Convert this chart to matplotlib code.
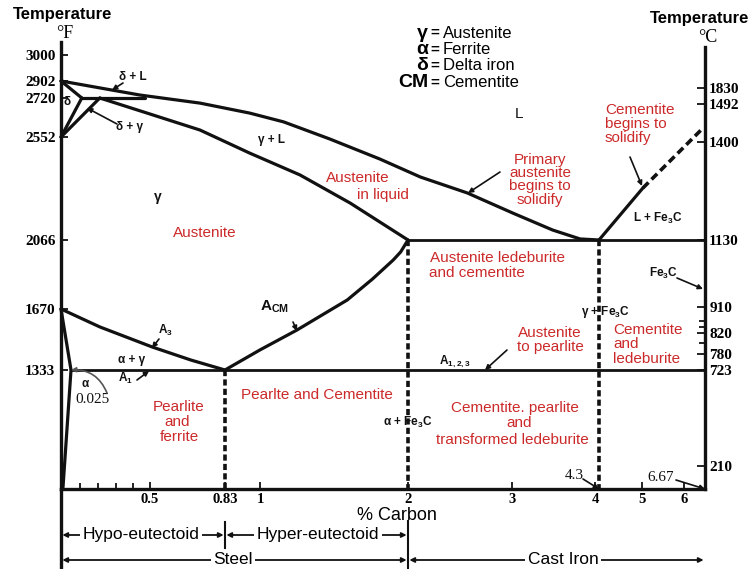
import numpy as np
import matplotlib
matplotlib.use("Agg")
import matplotlib.pyplot as plt
import matplotlib.transforms as mtransforms

plt.rcParams["font.family"] = ["Liberation Sans", "DejaVu Sans"]
plt.rcParams["mathtext.fontset"] = "custom"
plt.rcParams["mathtext.rm"] = "Liberation Sans:bold"
plt.rcParams["mathtext.bf"] = "Liberation Sans:bold"
plt.rcParams["mathtext.default"] = "bf"

# ---------------------------------------------------------------- data
# axis tick values
carbon_ticks = [0.5, 0.83, 1, 2, 3, 4, 5, 6]
carbon_minor = [0.1, 0.2, 0.3, 0.4]
temp_f_ticks = [3000, 2902, 2720, 2552, 2066, 1670, 1333]
temp_c_ticks = [1830, 1492, 1400, 1130, 910, 820, 780, 723, 210]
temp_c_minor = [860, 840, 800]

# phase boundaries (% carbon, deg F)
liquidus_c = [0, 0.44, 0.72, 0.95, 1.16, 1.47, 1.81, 2.12, 2.57, 3.01, 3.49, 3.82, 4.3]
liquidus_f = [2902, 2752, 2698, 2655, 2617, 2543, 2448, 2363, 2288, 2193, 2113, 2071, 2066]
solidus_c = [0.21, 0.5, 0.72, 0.95, 1.27, 1.61, 2]
solidus_f = [2720, 2651, 2582, 2476, 2373, 2240, 2066]
delta_liq_c, delta_liq_f = [0, 0.11], [2902, 2720]
delta_sol_c, delta_sol_f = [0, 0.11], [2552, 2720]
gamma_delta_c, gamma_delta_f = [0, 0.21], [2552, 2720]
peritectic_c, peritectic_f = [0.11, 0.47], [2720, 2720]
a3_c = [0, 0.21, 0.51, 0.68, 0.83]
a3_f = [1670, 1571, 1460, 1388, 1333]
acm_c = [0.83, 1.0, 1.25, 1.59, 1.76, 1.90, 1.95, 2]
acm_f = [1333, 1444, 1554, 1722, 1842, 1951, 1997, 2066]
ferrite_c = [0, 0.025, 0.005]
ferrite_f = [1670, 1333, 50]
eutectoid_c, eutectoid_f = [0.025, 6.67], [1333, 1333]
eutectic_c, eutectic_f = [2, 6.67], [2066, 2066]
cem_liq_c, cem_liq_f = [4.3, 5.02], [2066, 2311]
cem_liq_ext_c, cem_liq_ext_f = [5.02, 6.61], [2311, 2591]
dashed_verticals = [(0.83, 1333), (2, 2066), (4.3, 2066)]
t_bottom_f = 32

# ------------------------------------------------------- schematic scales
W, H = 750, 569
x_break_val = [0, 0.025, 0.1, 0.2, 0.3, 0.4, 0.5, 0.83, 1, 2, 3, 4, 4.3, 5, 6, 6.67]
x_break_pos = [61, 71, 80, 98, 116, 133, 150, 225, 260, 408, 512, 595, 599, 642, 684, 705]
f_break_val = [32, 1333, 1670, 2066, 2552, 2720, 2902, 3000, 3050]
f_break_pos = [489, 370, 309, 240, 137, 98, 81, 55, 42]
c_break_val = [84, 210, 723, 780, 820, 910, 1130, 1400, 1492, 1830, 2800]
c_break_pos = [489, 466, 370, 354, 333, 307, 240, 142, 104, 88, 42]


def piecewise(vals, pos, flip):
    v = np.asarray(vals, float)
    p = np.asarray(pos, float) * (-1 if flip else 1)
    o = np.argsort(v)
    v, p = v[o], p[o]
    return (lambda x: np.interp(x, v, p)), (lambda y: np.interp(y, p, v))


fx, ix = piecewise(x_break_val, x_break_pos, False)
ff, iF = piecewise(f_break_val, f_break_pos, True)
fc, ic = piecewise(c_break_val, c_break_pos, True)

fig = plt.figure(figsize=(W / 100, H / 100), dpi=100)
ax = fig.add_axes([61 / W, 1 - 489 / H, (705 - 61) / W, (489 - 42) / H])
ax.set_xscale("function", functions=(fx, ix))
ax.set_yscale("function", functions=(ff, iF))
ax.set_xlim(0, 6.67)
ax.set_ylim(t_bottom_f, 3050)
ax.patch.set_visible(False)

px = mtransforms.Affine2D().scale(1 / W, -1 / H).translate(0, 1) + fig.transFigure
xpx = mtransforms.blended_transform_factory(ax.transData, px)

LW = 2.3
K = "#111111"
RED = "#cc2a2a"
for c, f in [(liquidus_c, liquidus_f), (solidus_c, solidus_f),
             (delta_liq_c, delta_liq_f), (delta_sol_c, delta_sol_f),
             (gamma_delta_c, gamma_delta_f), (peritectic_c, peritectic_f),
             (a3_c, a3_f), (acm_c, acm_f), (ferrite_c, ferrite_f),
             (cem_liq_c, cem_liq_f)]:
    ax.plot(c, f, color=K, lw=LW, solid_capstyle="round", solid_joinstyle="round", clip_on=False)
for c, f in [(eutectoid_c, eutectoid_f), (eutectic_c, eutectic_f)]:
    ax.plot(c, f, color=K, lw=2.0, clip_on=False)
for c, top in dashed_verticals:
    ax.plot([c, c], [top, t_bottom_f], color=K, lw=2.6, linestyle=(0, (1.7, 0.9)))
ax.plot(cem_liq_ext_c, cem_liq_ext_f, color=K, lw=2.6, linestyle=(0, (2.2, 1.2)))

# ---------------------------------------------------------------- axes
for s in ("top", "right"):
    ax.spines[s].set_visible(False)
for s in ("left", "bottom"):
    ax.spines[s].set_linewidth(2.4)
    ax.spines[s].set_color(K)
ax.plot([0, 0], [0, -80 / 447], transform=ax.transAxes, color=K, lw=2.4, clip_on=False)

tick_font = dict(fontfamily="Liberation Serif", fontweight="bold", fontsize=11)
ax.set_yticks(temp_f_ticks, labels=[str(t) for t in temp_f_ticks], **tick_font)
ax.set_yticks([], minor=True)
ax.set_xticks(carbon_ticks, labels=[f"{t:g}" for t in carbon_ticks], fontfamily="Liberation Serif",
              fontweight="bold", fontsize=10.5)
ax.set_xticks(carbon_minor, minor=True)
ax.tick_params(axis="both", which="both", direction="in", color=K, width=1.3)
ax.tick_params(axis="y", which="major", length=5, pad=4)
ax.tick_params(axis="x", which="major", length=5, pad=3)
ax.tick_params(axis="x", which="minor", length=4)

ax2 = ax.twinx()
ax2.set_yscale("function", functions=(fc, ic))
ax2.set_ylim(84, 2800)
ax2.patch.set_visible(False)
for s in ("top", "left", "bottom"):
    ax2.spines[s].set_visible(False)
ax2.spines["right"].set_linewidth(2.4)
ax2.spines["right"].set_color(K)
ax2.spines["right"].set_bounds(84, ic(-47))
ax2.set_yticks(temp_c_ticks, labels=[str(t) for t in temp_c_ticks], **tick_font)
ax2.set_yticks(temp_c_minor, minor=True)
ax2.tick_params(axis="y", which="both", direction="in", color=K, width=1.3, pad=3)
ax2.tick_params(axis="y", which="major", length=6)
ax2.tick_params(axis="y", which="minor", length=4)

# ------------------------------------------------------------- headings
fig.text(13 / W, 1 - 15 / H, "Temperature", ha="left", va="center", fontsize=12, fontweight="bold")
fig.text(700 / W, 1 - 18 / H, "Temperature", ha="center", va="center", fontsize=12, fontweight="bold")
fig.text(65 / W, 1 - 33 / H, "°F", ha="center", va="center", fontsize=13, fontfamily="Liberation Serif")
fig.text(708 / W, 1 - 37 / H, "°C", ha="center", va="center", fontsize=13, fontfamily="Liberation Serif")
fig.text(397 / W, 1 - 516 / H, "% Carbon", ha="center", va="center", fontsize=13)

# key
key = [("γ", "Austenite"), ("α", "Ferrite"), ("δ", "Delta iron"), ("CM", "Cementite")]
for i, (sym, name) in enumerate(key):
    y = 33 + 16.5 * i
    ax.text(428, y, sym, transform=px, ha="right", va="center", fontsize=14, fontweight="bold")
    ax.text(435, y, "=", transform=px, ha="center", va="center", fontsize=11, fontweight="bold")
    ax.text(443, y, name, transform=px, ha="left", va="center", fontsize=12)


def label(x, y, s, color=RED, size=11, ha="center", **kw):
    ax.text(x, y, s, transform=px, ha=ha, va="center", fontsize=size, color=color, **kw)


# region names
label(205, 233, "Austenite")
label(326, 178, "Austenite", ha="left")
label(357, 195, "in liquid", ha="left")
for y, s in [(160, "Primary"), (173, "austenite"), (186, "begins to"), (200, "solidify")]:
    label(540, y, s)
label(430, 258, "Austenite ledeburite", ha="left")
label(429, 273, "and cementite", ha="left")
label(550, 333, "Austenite")
label(550, 347, "to pearlite")
for y, s in [(330, "Cementite"), (344, "and"), (359, "ledeburite")]:
    label(613, y, s, ha="left")
label(515, 408, "Cementite. pearlite")
label(519, 423, "and")
label(512, 440, "transformed ledeburite")
label(179, 407, "Pearlite")
label(177, 422, "and")
label(179, 437, "ferrite")
label(317, 395, "Pearlte and Cementite")
for y, s in [(110, "Cementite"), (124, "begins to"), (138, "solidify")]:
    label(605, y, s, ha="left")

# phase symbols
bk = dict(color=K, size=8.5, fontweight="bold")
label(133, 77, "δ + L", **bk)
label(67, 102, "δ", **bk)
label(130, 127, "δ + γ", **bk)
label(272, 140, "γ + L", **bk)
label(158, 197, "γ", color=K, size=10, fontweight="bold")
label(519, 114, "L", color=K, size=11)
label(275, 307, r"A$_{CM}$", color=K, size=11, fontweight="bold")
label(165, 330, r"A$_3$", **bk)
label(132, 360, "α + γ", **bk)
label(125, 378, r"A$_1$", **bk)
label(85, 384, "α", **bk)
label(408, 422, r"α + Fe$_3$C", **bk)
label(605, 312, r"γ + Fe$_3$C", **bk)
label(658, 218, r"L + Fe$_3$C", **bk)
label(455, 362, r"A$_{1,2,3}$", **bk)
label(663, 273, r"Fe$_3$C", **bk)
serif = dict(color=K, size=11, fontfamily="Liberation Serif")
label(93, 400, "0.025", **serif)
label(574, 476, "4.3", **serif)
label(661, 478, "6.67", **serif)

# leader arrows
arrow = dict(arrowstyle="-|>", color=K, lw=1.2, mutation_scale=7, shrinkA=0, shrinkB=0)
for tail, tip in [((123, 83), (112, 90)), ((117, 124), (87, 108)), ((159, 339), (152, 348)),
                  ((137, 380), (149, 371)), ((293, 322), (297, 331)), ((507, 350), (485, 370)),
                  ((500, 172), (468, 193)), ((630, 157), (642, 186)), ((677, 278), (703, 289))]:
    ax.annotate("", xy=tip, xycoords=px, xytext=tail, textcoords=px, arrowprops=arrow,
                annotation_clip=False)
ax.annotate("", xy=(0.025, 1333), xycoords="data", xytext=(107, 393), textcoords=px,
            arrowprops=dict(arrow, color="#555555", connectionstyle="arc3,rad=0.35"),
            annotation_clip=False)
ax.annotate("", xy=(4.3, t_bottom_f), xycoords="data", xytext=(583, 479), textcoords=px,
            arrowprops=arrow, annotation_clip=False)
ax.annotate("", xy=(6.67, t_bottom_f), xycoords="data", xytext=(676, 480), textcoords=px,
            arrowprops=arrow, annotation_clip=False)

# composition ranges under the axis
span = dict(arrowstyle="<|-|>", color=K, lw=1.3, mutation_scale=7, shrinkA=1, shrinkB=1)
for c0, c1, y, xt, s in [(0, 0.83, 535, 141, "Hypo-eutectoid"), (0.83, 2, 535, 318, "Hyper-eutectoid"),
                         (0, 2, 560, 233, "Steel"), (2, 6.67, 560, 563, "Cast Iron")]:
    ax.annotate("", xy=(c1, y), xycoords=xpx, xytext=(c0, y), textcoords=xpx,
                arrowprops=span, annotation_clip=False)
    ax.text(xt, y, s, transform=px, ha="center", va="center", fontsize=12.5,
            bbox=dict(boxstyle="square,pad=0.15", fc="white", ec="none"), clip_on=False)
ax.plot([0.83, 0.83], [522, 548], transform=xpx, color=K, lw=1.5, clip_on=False)
ax.plot([2, 2], [521, 569], transform=xpx, color=K, lw=1.5, clip_on=False)

fig.savefig("out.png", dpi=100)
